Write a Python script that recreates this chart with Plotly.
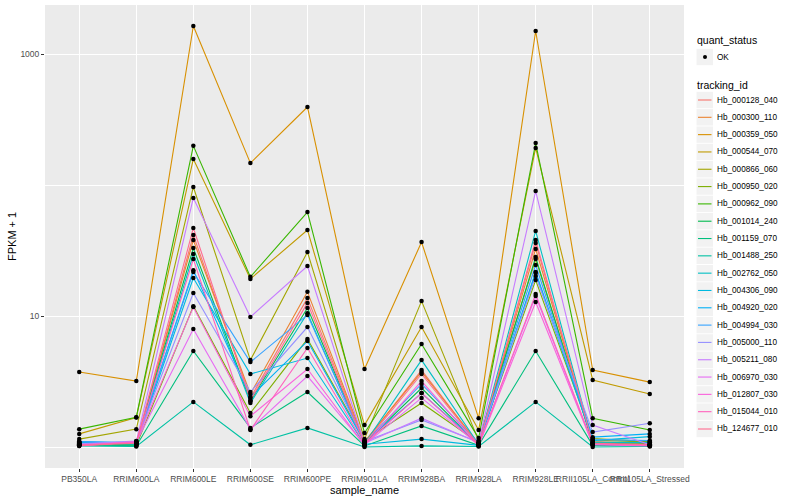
import plotly.graph_objects as go

samples = ["PB350LA", "RRIM600LA", "RRIM600LE", "RRIM600SE", "RRIM600PE", "RRIM901LA",
           "RRIM928BA", "RRIM928LA", "RRIM928LE", "RRII105LA_Control", "RRII105LA_Stressed"]

tracking_ids = ["Hb_000128_040", "Hb_000300_110", "Hb_000359_050", "Hb_000544_070", "Hb_000866_060",
                "Hb_000950_020", "Hb_000962_090", "Hb_001014_240", "Hb_001159_070", "Hb_001488_250",
                "Hb_002762_050", "Hb_004306_090", "Hb_004920_020", "Hb_004994_030", "Hb_005000_110",
                "Hb_005211_080", "Hb_006970_030", "Hb_012807_030", "Hb_015044_010", "Hb_124677_010"]

colors = ["#F8766D", "#EA8331", "#D89000", "#C09B00", "#A3A500", "#7CAE00", "#39B600", "#00BB4E",
          "#00BF7D", "#00C1A3", "#00BFC4", "#00BAE0", "#00B0F6", "#35A2FF", "#9590FF", "#C77CFF",
          "#E76BF3", "#FA62DB", "#FF62BC", "#FF6C91"]

# FPKM + 1 values, one list per tracking_id, in sample order
fpkm_000128_040 = [1.03, 1.04, 41.5, 2.37, 13.7, 1.08, 3.87, 1.05, 36.1, 1.08, 1.04]
fpkm_000300_110 = [1.05, 1.06, 38.0, 2.54, 15.3, 1.10, 3.74, 1.06, 32.5, 1.10, 1.06]
fpkm_000359_050 = [3.74, 3.19, 1636, 147, 394, 3.94, 36.7, 1.66, 1499, 3.87, 3.13]
fpkm_000544_070 = [1.26, 1.68, 158, 19.2, 45.3, 1.47, 8.24, 1.35, 192, 3.25, 2.54]
fpkm_000866_060 = [1.15, 1.37, 96.6, 4.61, 30.8, 1.15, 13.0, 1.12, 27.2, 1.13, 1.09]
fpkm_000950_020 = [1.08, 1.03, 11.9, 1.82, 6.67, 1.12, 2.17, 1.08, 18.8, 1.16, 1.10]
fpkm_000962_090 = [1.37, 1.69, 199, 19.9, 62.2, 1.28, 6.11, 1.17, 209, 1.66, 1.35]
fpkm_001014_240 = [1.06, 1.05, 33.0, 2.24, 11.5, 1.07, 2.82, 1.04, 28.2, 1.06, 1.05]
fpkm_001159_070 = [1.04, 1.02, 5.41, 1.40, 2.63, 1.02, 1.45, 1.03, 5.41, 1.03, 1.02]
fpkm_001488_250 = [1.02, 1.01, 2.21, 1.04, 1.40, 1.00, 1.02, 1.01, 2.21, 1.00, 1.01]
fpkm_002762_050 = [1.07, 1.05, 29.7, 2.17, 10.5, 1.06, 4.61, 1.05, 44.6, 1.09, 1.08]
fpkm_004306_090 = [1.09, 1.06, 19.5, 3.61, 4.78, 1.05, 1.15, 1.03, 21.3, 1.12, 1.20]
fpkm_004920_020 = [1.10, 1.07, 22.4, 2.41, 6.44, 1.09, 2.58, 1.06, 21.7, 1.19, 1.26]
fpkm_004994_030 = [1.10, 1.08, 21.7, 4.45, 10.2, 1.08, 3.03, 1.07, 24.5, 1.14, 1.12]
fpkm_005000_110 = [1.06, 1.11, 15.0, 2.63, 8.24, 1.10, 1.61, 1.09, 20.2, 1.30, 1.52]
fpkm_005211_080 = [1.05, 1.10, 79.6, 9.83, 24.1, 1.07, 1.66, 1.08, 90.0, 1.47, 1.04]
fpkm_006970_030 = [1.03, 1.09, 7.96, 1.37, 3.48, 1.04, 2.37, 1.04, 14.2, 1.05, 1.03]
fpkm_012807_030 = [1.02, 1.10, 11.7, 1.72, 3.94, 1.03, 3.19, 1.02, 12.8, 1.04, 1.02]
fpkm_015044_010 = [1.04, 1.08, 27.2, 1.35, 5.70, 1.05, 2.58, 1.03, 14.7, 1.06, 1.03]
fpkm_124677_010 = [1.03, 1.07, 47.0, 2.28, 12.6, 1.06, 3.61, 1.04, 38.0, 1.07, 1.04]

series = [fpkm_000128_040, fpkm_000300_110, fpkm_000359_050, fpkm_000544_070, fpkm_000866_060,
          fpkm_000950_020, fpkm_000962_090, fpkm_001014_240, fpkm_001159_070, fpkm_001488_250,
          fpkm_002762_050, fpkm_004306_090, fpkm_004920_020, fpkm_004994_030, fpkm_005000_110,
          fpkm_005211_080, fpkm_006970_030, fpkm_012807_030, fpkm_015044_010, fpkm_124677_010]

y_major_ticks = [10, 1000]
y_major_labels = ["10", "1000"]
y_minor_ticks = [1, 100]

W, H = 800, 500
ML, MR, MT, MB = 45, 116, 5, 32
FONT = "Liberation Sans, Arial, Helvetica, sans-serif"

fig = go.Figure()
for name, col, vals in zip(tracking_ids, colors, series):
    fig.add_trace(go.Scatter(x=samples, y=vals, mode="lines", name=name,
                             line=dict(color=col, width=1.1), showlegend=False,
                             hoverinfo="skip"))
for name, vals in zip(tracking_ids, series):
    fig.add_trace(go.Scatter(x=samples, y=vals, mode="markers", name=name,
                             marker=dict(color="black", size=4.5), showlegend=False))

# manual ggplot-style legend (pixel helpers -> paper coords)
pw, ph = W - ML - MR, H - MT - MB
def px(x):
    return (x - ML) / pw
def py(y):
    return (H - MB - y) / ph

shapes = []
annotations = []

def key_box(cy):
    shapes.append(dict(type="rect", xref="paper", yref="paper",
                       x0=px(696.5), x1=px(713), y0=py(cy - 8.2), y1=py(cy + 8.2),
                       fillcolor="#F2F2F2", line=dict(width=0), layer="above"))

# y-axis title
annotations.append(dict(text="FPKM + 1", xref="paper", yref="paper", x=px(12), y=py(237),
                        xanchor="center", yanchor="middle", showarrow=False, textangle=-90,
                        font=dict(family=FONT, size=11, color="black")))

annotations.append(dict(text="quant_status", xref="paper", yref="paper", x=px(695), y=py(40),
                        xanchor="left", yanchor="middle", showarrow=False,
                        font=dict(family=FONT, size=10.5, color="black")))
key_box(57)
annotations.append(dict(text="OK", xref="paper", yref="paper", x=px(715), y=py(57),
                        xanchor="left", yanchor="middle", showarrow=False,
                        font=dict(family=FONT, size=8.2, color="black")))
shapes.append(dict(type="circle", xref="paper", yref="paper",
                   x0=px(703), x1=px(707), y0=py(55), y1=py(59),
                   fillcolor="black", line=dict(width=0), layer="above"))

annotations.append(dict(text="tracking_id", xref="paper", yref="paper", x=px(695), y=py(85),
                        xanchor="left", yanchor="middle", showarrow=False,
                        font=dict(family=FONT, size=10.5, color="black")))
step = (429 - 100) / (len(tracking_ids) - 1)
for i, (name, col) in enumerate(zip(tracking_ids, colors)):
    cy = 100 + i * step
    key_box(cy)
    shapes.append(dict(type="line", xref="paper", yref="paper",
                       x0=px(698), x1=px(711.5), y0=py(cy), y1=py(cy),
                       line=dict(color=col, width=1.1), layer="above"))
    annotations.append(dict(text=name, xref="paper", yref="paper", x=px(715), y=py(cy),
                            xanchor="left", yanchor="middle", showarrow=False,
                            font=dict(family=FONT, size=8.2, color="black")))

fig.update_layout(
    width=W, height=H,
    margin=dict(l=ML, r=MR, t=MT, b=MB),
    paper_bgcolor="white", plot_bgcolor="#EBEBEB",
    font=dict(family=FONT, color="black"),
    shapes=shapes, annotations=annotations,
    showlegend=False,
    xaxis=dict(type="category", categoryorder="array", categoryarray=samples,
               range=[-0.6, len(samples) - 0.4],
               showgrid=True, gridcolor="white", gridwidth=1.2, zeroline=False,
               ticks="outside", ticklen=3, tickcolor="#333333", tickwidth=1,
               tickangle=0, tickfont=dict(family=FONT, size=8.5, color="#4D4D4D"),
               title=dict(text="sample_name", font=dict(family=FONT, size=11, color="black"),
                          standoff=1),
               showline=False, fixedrange=True, automargin=False),
    yaxis=dict(type="log", range=[-0.160, 3.374],
               tickmode="array", tickvals=y_major_ticks, ticktext=y_major_labels,
               showgrid=True, gridcolor="white", gridwidth=1.2, zeroline=False,
               ticks="outside", ticklen=3, tickcolor="#333333", tickwidth=1,
               tickfont=dict(family=FONT, size=8.5, color="#4D4D4D"),
               minor=dict(tickmode="array", tickvals=y_minor_ticks, showgrid=True,
                          gridcolor="white", gridwidth=0.6, ticks=""),
               showline=False, fixedrange=True, automargin=False),
)

fig.write_html("out.html", config={"displayModeBar": False},
               post_script="document.body.style.margin='0px';")
